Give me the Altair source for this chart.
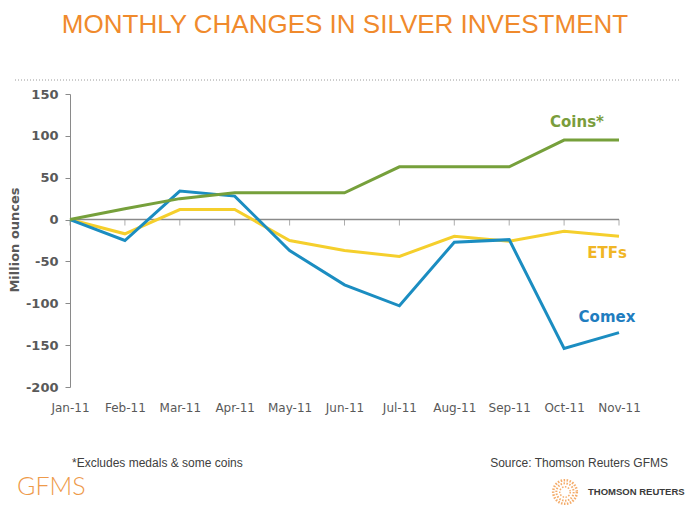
import altair as alt
import pandas as pd

# ---- data ----
months = ["Jan-11", "Feb-11", "Mar-11", "Apr-11", "May-11", "Jun-11",
          "Jul-11", "Aug-11", "Sep-11", "Oct-11", "Nov-11"]
coins = [0, 13, 25, 32, 32, 32, 63, 63, 63, 95, 95]
comex = [0, -25, 34, 28, -37, -78, -103, -27, -24, -154, -135]
etfs = [0, -17, 12, 12, -25, -37, -44, -20, -26, -14, -20]
series_names = ["ETFs", "Comex", "Coins*"]
series_values = [etfs, comex, coins]
series_colors = ["#F5CF2C", "#1B8DC1", "#76A03B"]
label_colors = ["#F0B626", "#1F7DBF", "#7A9D3C"]
y_ticks = [150, 100, 50, 0, -50, -100, -150, -200]

title_text = "MONTHLY CHANGES IN SILVER INVESTMENT"
footnote_text = "*Excludes medals & some coins"
source_text = "Source: Thomson Reuters GFMS"

rows = []
for name, vals in zip(series_names, series_values):
    for m, v in zip(months, vals):
        rows.append({"month": m, "value": v, "series": name})
df = pd.DataFrame(rows)

W, H = 549, 293
GRAY = "#595959"

x_enc = alt.X("month:O", sort=months,
              scale=alt.Scale(type="point", padding=0),
              axis=alt.Axis(title=None, labelAngle=0, domain=False, ticks=False,
                            labelFont="DejaVu Sans", labelFontSize=12,
                            labelColor=GRAY, labelPadding=15))
y_scale = alt.Scale(domain=[-200, 150], nice=False, zero=False)
y_axis = alt.Axis(title=None, values=y_ticks, grid=False, domainColor="#8a8a8a",
                  tickColor="#8a8a8a", tickSize=5, labelFont="DejaVu Sans",
                  labelFontWeight="bold", labelFontSize=13, labelColor=GRAY,
                  labelPadding=7, labelExpr="'' + datum.value")

one = pd.DataFrame({"z": [0]})
base_rows = pd.DataFrame({"month": months, "z": [0] * len(months)})

zero_rule = alt.Chart(one).mark_rule(color="#8a8a8a", strokeWidth=1.5).encode(
    y=alt.Y("z:Q", scale=y_scale, axis=y_axis))

zero_ticks = alt.Chart(base_rows).mark_tick(
    orient="vertical", size=6, yOffset=3, thickness=1, color="#8a8a8a").encode(
    x=x_enc, y=alt.Y("z:Q", scale=y_scale))

line_layers = []
for name, col in zip(series_names, series_colors):
    line_layers.append(
        alt.Chart(df).transform_filter(alt.datum.series == name)
        .mark_line(color=col, strokeWidth=3, strokeJoin="miter")
        .encode(x=x_enc, y=alt.Y("value:Q", scale=y_scale, axis=y_axis))
    )


def txt(text, x, y, **kw):
    return alt.Chart(one).mark_text(text=text, **kw).encode(
        x=alt.value(x), y=alt.value(y))


labels = [
    txt("Coins*", 507, 28, font="DejaVu Sans", fontWeight="bold", fontSize=15,
        color=label_colors[2], align="center", baseline="middle"),
    txt("ETFs", 537, 159, font="DejaVu Sans", fontWeight="bold", fontSize=15,
        color=label_colors[0], align="center", baseline="middle"),
    txt("Comex", 537, 223, font="DejaVu Sans", fontWeight="bold", fontSize=15,
        color=label_colors[1], align="center", baseline="middle"),
    txt("Million ounces", -55, 146, font="DejaVu Sans", fontWeight="bold",
        fontSize=13, color=GRAY, angle=270, align="center", baseline="middle"),
    txt(title_text, 275, -61, font="Liberation Sans", fontSize=26,
        color="#F08A2C", align="center", baseline="alphabetic"),
    txt(footnote_text, 2, 373, font="Liberation Sans", fontSize=12,
        color="#404040", align="left", baseline="alphabetic"),
    txt(source_text, 598, 373, font="Liberation Sans", fontSize=12,
        color="#404040", align="right", baseline="alphabetic"),
    txt("GFMS", -53, 401, font="Lato", fontWeight=300, fontSize=25,
        color="#EE9A4A", align="left", baseline="alphabetic"),
    txt("THOMSON REUTERS", 518, 398, font="Liberation Sans", fontWeight="bold",
        fontSize=9.5, color="#3a3a3a", align="left", baseline="middle"),
]

dotted = alt.Chart(one).mark_rule(color="#9a9a9a", strokeDash=[1, 2],
                                  strokeWidth=1).encode(
    x=alt.value(-55), x2=alt.value(610), y=alt.value(-14))

logo = [
    alt.Chart(one).mark_point(shape="circle", filled=False, size=s,
                              strokeDash=[1.5, 1.5], strokeWidth=sw,
                              color="#F08A2C").encode(
        x=alt.value(495), y=alt.value(398))
    for s, sw in [(560, 2.5), (300, 2), (110, 1.5)]
]

chart = alt.layer(
    zero_rule, zero_ticks, *line_layers, dotted, *labels, *logo
).properties(
    width=W, height=H,
    padding={"left": 70, "top": 94, "right": 73, "bottom": 128},
    autosize=alt.AutoSizeParams(type="none"),
    background="white",
).configure_view(stroke=None).configure_axis(labelFlush=False)

chart.save("out.html", embed_options={"renderer": "svg", "actions": False})
